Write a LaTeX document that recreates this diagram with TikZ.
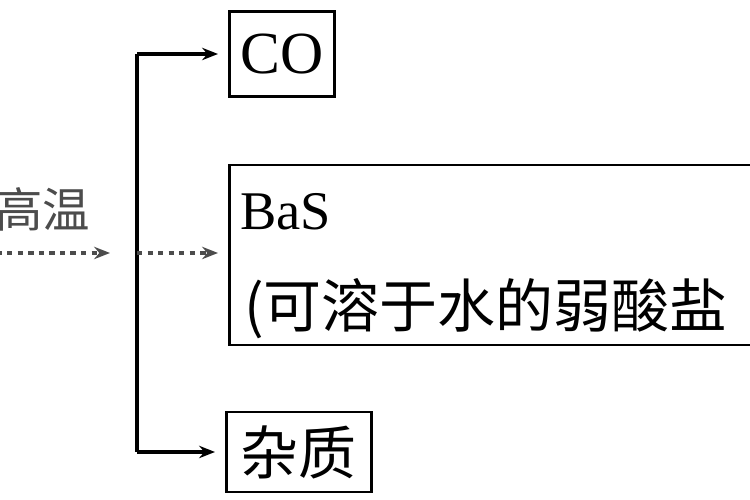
\documentclass[tikz,border=0pt]{standalone}
\usepackage{fontspec}
\setmainfont{Liberation Serif}
\newfontfamily\cjk{Noto Sans CJK SC}
\usetikzlibrary{arrows.meta}

\begin{document}
\begin{tikzpicture}[>={Stealth[length=9pt,width=7pt]}]
  \tikzstyle{box} = [rectangle, draw, line width=1.6pt, inner sep=0pt]
  \tikzstyle{flow} = [->, line width=1.8pt, shorten >=0.2cm]
  \tikzstyle{faint} = [flow, black!70, dash pattern=on 3pt off 3pt]

  \path[use as bounding box, clip] (0,0) rectangle (15,10);

  % Define nodes
  \node[box, minimum width=2.1cm, minimum height=1.7cm, anchor=west] (co) at (4.56,8.92) {\fontsize{34}{40}\selectfont CO};
  \node[box, minimum width=11cm, minimum height=3.6cm, anchor=west] (bas) at (4.56,4.9) {};
  \node[anchor=base west, inner sep=0pt] (basname) at (4.8,5.4) {\fontsize{31}{36}\selectfont BaS};
  \node[anchor=base west, inner sep=0pt] (basnote) at (4.88,3.45) {\cjk\fontsize{33}{40}\selectfont (可溶于水的弱酸盐};
  \node[box, minimum width=2.9cm, minimum height=1.6cm, anchor=west] (zazhi) at (4.5,0.96) {\cjk\fontsize{33}{40}\selectfont 杂质};

  \coordinate (in) at (-0.7,4.94);
  \coordinate (feed) at (2.4,4.94);
  \coordinate (split) at (2.74,4.94);

  \draw[faint] (in) -- node[above=0.4cm, inner sep=0pt] (gaowen) {\cjk\fontsize{27}{32}\selectfont 高温} (feed);
  \draw[line width=1.8pt] (split |- co.west) -- (split |- zazhi.west);
  \draw[flow] (split |- co.west) -- (co.west);
  \draw[faint] (split) -- (bas.west |- split);
  \draw[flow] (split |- zazhi.west) -- (zazhi.west);
\end{tikzpicture}
\end{document}
